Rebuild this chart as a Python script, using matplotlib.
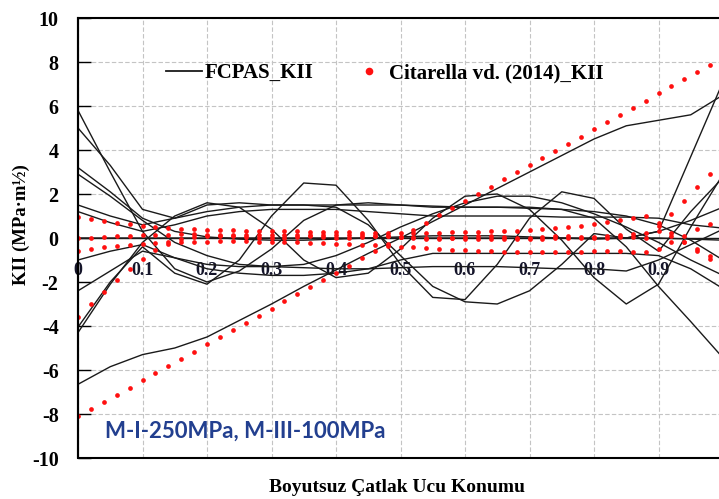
import numpy as np
import matplotlib
matplotlib.use("Agg")
import matplotlib.pyplot as plt
from matplotlib.lines import Line2D
from matplotlib.patches import Rectangle

# ---------------- data ----------------
X_LINE = [0.00, 0.05, 0.10, 0.15, 0.20, 0.25, 0.30, 0.35, 0.40, 0.45, 0.50,
          0.55, 0.60, 0.65, 0.70, 0.75, 0.80, 0.85, 0.90, 0.95, 1.00]

fcpas_k1 = [-6.65, -5.85, -5.3, -5.0, -4.5, -3.75, -3.0, -2.2, -1.45, -0.7, 0.0,
            0.75, 1.5, 2.25, 3.0, 3.75, 4.5, 5.1, 5.35, 5.6, 6.5]
fcpas_k2 = [5.8, 3.0, 0.3, -1.4, -2.0, -1.5, -0.5, 0.8, 1.5, 1.6, 1.5,
            1.4, 1.4, 1.4, 1.4, 1.3, 0.9, -0.4, -2.2, -3.8, -5.45]
fcpas_k3 = [5.0, 3.3, 1.3, 0.9, 1.5, 1.6, 1.5, 1.5, 1.4, 0.6, -0.8,
            -2.2, -2.9, -3.0, -2.4, -1.2, 0.2, 0.0, 0.3, 3.7, 7.1]
fcpas_k4 = [-4.3, -2.1, -0.2, 1.0, 1.6, 1.4, 0.4, -1.0, -1.8, -1.6, -0.5,
            0.9, 1.9, 2.0, 1.3, -0.1, -1.8, -3.0, -2.1, 0.5, 2.9]
fcpas_k5 = [-4.05, -2.0, -0.4, -1.6, -2.1, -1.0, 1.0, 2.5, 2.4, 0.8, -1.2,
            -2.7, -2.8, -1.2, 0.9, 2.1, 1.8, 0.4, -0.6, 1.2, 2.75]
fcpas_k6 = [3.2, 2.1, 0.9, 0.3, 0.05, -0.05, -0.1, -0.1, -0.05, 0.0, 0.05,
            0.1, 0.1, 0.1, 0.05, 0.0, -0.05, 0.0, 0.3, 0.8, 1.4]
fcpas_k7 = [1.5, 1.0, 0.6, 0.9, 1.2, 1.4, 1.5, 1.5, 1.5, 1.5, 1.5,
            1.45, 1.4, 1.4, 1.35, 1.3, 1.2, 1.0, 0.6, -0.1, -1.0]
fcpas_k8 = [1.2, 0.7, 0.3, 0.6, 1.0, 1.2, 1.3, 1.3, 1.3, 1.2, 1.1,
            1.0, 1.0, 1.0, 1.0, 0.95, 0.95, 0.95, 0.9, 0.6, 0.45]
fcpas_k9 = [0.0, 0.0, 0.0, 0.0, 0.0, 0.0, 0.0, 0.0, 0.0, 0.0, 0.0,
            0.0, 0.0, 0.0, 0.0, 0.0, 0.0, 0.0, 0.0, -0.05, -0.1]
fcpas_k10 = [-1.0, -0.6, -0.3, -0.9, -1.2, -1.3, -1.3, -1.35, -1.4, -1.4, -1.35,
             -1.3, -1.3, -1.3, -1.35, -1.4, -1.4, -1.5, -1.0, -0.3, 0.4]
fcpas_k11 = [-2.4, -1.5, -0.6, -0.9, -1.4, -1.6, -1.7, -1.7, -1.6, -1.4, -1.0,
             -0.7, -0.7, -0.7, -0.7, -0.7, -0.7, -0.7, -0.8, -1.4, -2.3]
fcpas_k12 = [2.9, 1.9, 0.8, -0.2, -0.8, -1.2, -1.3, -1.2, -0.8, -0.2, 0.5,
             1.1, 1.6, 1.9, 1.9, 1.6, 1.1, 0.5, -0.2, -1.0, -1.7]
FCPAS = [fcpas_k1, fcpas_k2, fcpas_k3, fcpas_k4, fcpas_k5, fcpas_k6,
         fcpas_k7, fcpas_k8, fcpas_k9, fcpas_k10, fcpas_k11, fcpas_k12]

X_DOT = [round(0.02 * i, 2) for i in range(51)]

cit_r1 = [-8.10, -7.77, -7.45, -7.12, -6.80, -6.47, -6.14, -5.82, -5.49, -5.17,
          -4.84, -4.51, -4.19, -3.86, -3.54, -3.21, -2.88, -2.56, -2.23, -1.91,
          -1.58, -1.25, -0.93, -0.60, -0.28, 0.05, 0.38, 0.70, 1.03, 1.35,
          1.68, 2.01, 2.33, 2.66, 2.98, 3.31, 3.64, 3.96, 4.29, 4.61,
          4.94, 5.27, 5.59, 5.92, 6.24, 6.57, 6.90, 7.22, 7.55, 7.87, 8.20]
cit_r2 = [-3.6, -3.0, -2.45, -1.9, -1.4, -0.95, -0.55, -0.25, -0.05, 0.05,
          0.08, 0.1, 0.1, 0.06, 0.02, -0.02, 0.0, 0.04, 0.08, 0.06,
          0.02, 0.0, 0.04, 0.08, 0.08, 0.05, 0.0, -0.04, -0.04, 0.0,
          0.04, 0.08, 0.08, 0.05, 0.0, 0.0, 0.04, 0.08, 0.08, 0.05,
          0.0, 0.0, 0.05, 0.05, 0.0, 0.55, 1.1, 1.7, 2.3, 2.9, 3.4]
cit_r3 = [0.95, 0.85, 0.78, 0.7, 0.62, 0.55, 0.5, 0.45, 0.42, 0.4,
          0.38, 0.36, 0.35, 0.34, 0.33, 0.32, 0.3, 0.3, 0.28, 0.28,
          0.27, 0.26, 0.25, 0.25, 0.24, 0.24, 0.24, 0.25, 0.25, 0.26,
          0.27, 0.28, 0.3, 0.32, 0.34, 0.36, 0.4, 0.44, 0.5, 0.56,
          0.64, 0.72, 0.8, 0.9, 1.0, 0.7, 0.25, -0.2, -0.6, -0.95, -1.25]
cit_r4 = [-0.6, -0.5, -0.42, -0.35, -0.3, -0.26, -0.22, -0.2, -0.18, -0.17,
          -0.16, -0.15, -0.15, -0.15, -0.16, -0.17, -0.18, -0.2, -0.22, -0.24,
          -0.26, -0.28, -0.3, -0.33, -0.36, -0.4, -0.43, -0.46, -0.5, -0.53,
          -0.56, -0.58, -0.6, -0.62, -0.63, -0.64, -0.64, -0.64, -0.63, -0.62,
          -0.6, -0.6, -0.6, -0.62, -0.65, -0.5, -0.2, 0.1, 0.4, 0.65, 0.85]
cit_r5 = [0.0, 0.02, 0.05, 0.08, 0.1, 0.12, 0.14, 0.15, 0.16, 0.16,
          0.15, 0.14, 0.13, 0.12, 0.12, 0.12, 0.12, 0.13, 0.14, 0.14,
          0.14, 0.13, 0.12, 0.1, 0.08, 0.06, 0.04, 0.02, 0.0, -0.02,
          -0.04, -0.05, -0.06, -0.06, -0.06, -0.05, -0.04, -0.02, 0.0, 0.02,
          0.05, 0.1, 0.15, 0.2, 0.25, 0.3, 0.1, -0.2, -0.5, -0.8, -1.1]
CITARELLA = [cit_r1, cit_r2, cit_r3, cit_r4, cit_r5]

XTICKS = [0.0, 0.1, 0.2, 0.3, 0.4, 0.5, 0.6, 0.7, 0.8, 0.9]
XTICK_LABELS = ["0", "0.1", "0.2", "0.3", "0.4", "0.5", "0.6", "0.7", "0.8", "0.9"]
YTICKS = [-10, -8, -6, -4, -2, 0, 2, 4, 6, 8, 10]
YTICK_LABELS = ["-10", "-8", "-6", "-4", "-2", "0", "2", "4", "6", "8", "10"]

LEGEND_LINE = "FCPAS_KII"
LEGEND_DOT = "Citarella vd. (2014)_KII"
XLABEL = "Boyutsuz Çatlak Ucu Konumu"
YLABEL = "KII (MPa·m½)"
NOTE = "M-I-250MPa, M-III-100MPa"

# ---------------- figure ----------------
W, H = 719, 499
fig = plt.figure(figsize=(W / 100, H / 100), dpi=100)
ax_l, ax_r, ax_t, ax_b = 78, 723, 18, 458
ax = fig.add_axes([ax_l / W, 1 - ax_b / H, (ax_r - ax_l) / W, (ax_b - ax_t) / H])

serif = ["Liberation Serif", "DejaVu Serif"]

ax.set_xlim(0, 1)
ax.set_ylim(-10, 10)

for ys in FCPAS:
    ax.plot(X_LINE, ys, color="#1a1a1a", lw=1.0, zorder=3, solid_joinstyle="round")
for ys in CITARELLA:
    ax.plot(X_DOT, ys, ls="none", marker="o", ms=3.4, color="#ff1010",
            mec="none", zorder=4)

# grid
ax.set_xticks(XTICKS + [1.0])
ax.set_yticks(YTICKS)
ax.grid(True, color="#c4c4c4", linestyle=(0, (4, 2)), lw=0.8, zorder=0)
ax.set_axisbelow(True)

# x axis crossing at y=0, labels below it
ax.spines["bottom"].set_position(("data", 0))
ax.spines["bottom"].set_linewidth(1.0)
ax.spines["bottom"].set_color("#1a1a1a")
ax.spines["top"].set_visible(False)
ax.spines["right"].set_visible(False)
ax.spines["left"].set_linewidth(1.5)
ax.set_xticklabels(XTICK_LABELS + [""], fontfamily=serif, fontweight="bold",
                   fontsize=13, color="#15152a")
ax.tick_params(axis="x", length=0, pad=17)
ax.set_yticklabels(YTICK_LABELS, fontfamily=serif, fontweight="bold", fontsize=14.5)
ax.tick_params(axis="y", direction="in", length=9, width=1.0, pad=14)

# plot-area frame
ax.add_patch(Rectangle((0, 0), 1, 1, transform=ax.transAxes, fill=False,
                       lw=1.5, ec="black", clip_on=False, zorder=5))

# legend
handles = [Line2D([], [], color="#1a1a1a", lw=1.3),
           Line2D([], [], ls="none", marker="o", ms=5.5, color="#ff1010", mec="none")]
leg = ax.legend(handles, [LEGEND_LINE, LEGEND_DOT], loc="center left",
                bbox_to_anchor=(166 / W, 1 - 73 / H), bbox_transform=fig.transFigure,
                ncol=2, frameon=False, borderpad=0, borderaxespad=0,
                handlelength=1.75, handletextpad=0.1, columnspacing=1.8,
                prop={"family": serif, "weight": "bold", "size": 15})

# note
ax.text(105 / W, 1 - 431 / H, NOTE, transform=fig.transFigure, ha="left", va="center",
        fontsize=16, fontweight="bold", family=["Lato", "DejaVu Sans"], color="#223f8f")

# axis titles
fig.text(397 / W, 1 - 487 / H, XLABEL, ha="center", va="center",
         family=serif, fontweight="bold", fontsize=14)
fig.text(21 / W, 1 - 225 / H, YLABEL, ha="center", va="center", rotation=90,
         family=serif, fontweight="bold", fontsize=13.5)

fig.savefig("out.png", dpi=100)
